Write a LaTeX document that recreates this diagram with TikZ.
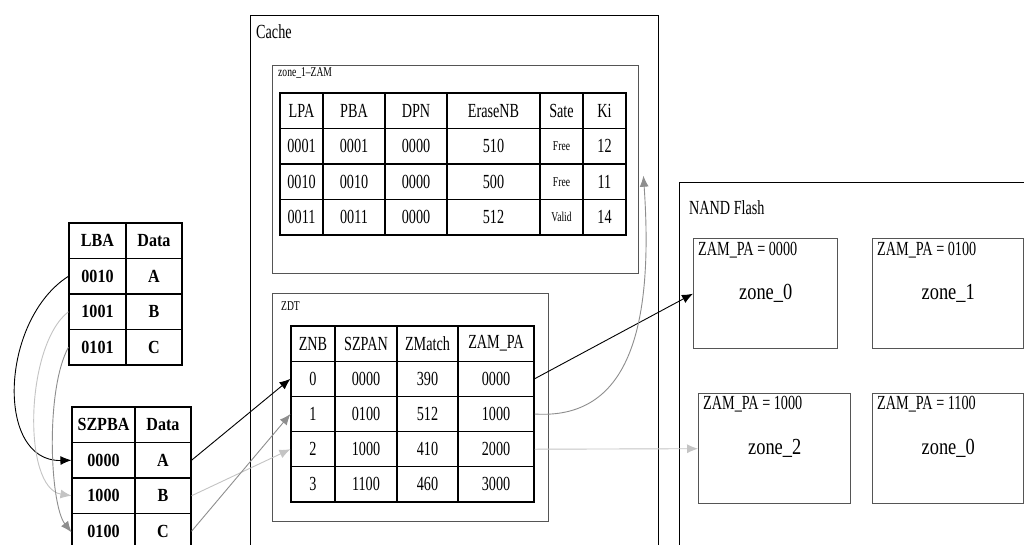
\documentclass[tikz,border=0pt]{standalone}
\usepackage{fontspec}
\setmainfont{Liberation Serif}[FakeStretch=0.71]
\newfontfamily\zonefamily{Liberation Serif}[FakeStretch=0.8]
\newfontfamily\hostfamily{Liberation Serif}[FakeStretch=0.87]
\usetikzlibrary{arrows.meta}

\definecolor{lightarrow}{HTML}{C4C4C4}
\definecolor{midarrow}{HTML}{8E8E8E}
\definecolor{framegray}{HTML}{555555}

\newcommand\tabfont{\fontsize{20}{22}\selectfont}
\newcommand\smallfont{\fontsize{13.5}{15}\selectfont}
\newcommand\zonefont{\zonefamily\fontsize{23}{25}\selectfont}
\newcommand\hostfont{\hostfamily\bfseries\fontsize{18.5}{20}\selectfont}

\tikzset{
  cell/.style={draw=black, line width=1.1pt, inner sep=0pt, anchor=center, font=\tabfont},
  hostcell/.style={draw=black, line width=1.1pt, inner sep=0pt, anchor=center, font=\hostfont},
  outerbox/.style={draw=black, line width=0.9pt, inner sep=0pt, anchor=north west},
  innerbox/.style={draw=framegray, line width=1.4pt, inner sep=0pt, anchor=north west},
  zonebox/.style={draw=framegray, line width=1.4pt, inner sep=0pt, anchor=north west, font=\zonefont},
  boxtitle/.style={anchor=west, inner sep=0pt, font=\tabfont},
  smalltitle/.style={anchor=west, inner sep=0pt, font=\smallfont},
  tip/.style={-{Latex[length=11pt,width=9pt]}},
  blackarrow/.style={tip, draw=black, line width=0.9pt},
  lightarr/.style={tip, draw=lightarrow, line width=0.9pt},
  midarr/.style={tip, draw=midarrow, line width=0.9pt}
}

% one row of the zone_1-ZAM table
\newcommand\zamrow[8]{%
  \node[cell, minimum width=43, minimum height=35.5] (zam-#1-1) at (301.5,#2) {#3};
  \node[cell, minimum width=62, minimum height=35.5] (zam-#1-2) at (354,#2) {#4};
  \node[cell, minimum width=62, minimum height=35.5] (zam-#1-3) at (416,#2) {#5};
  \node[cell, minimum width=93, minimum height=35.5] (zam-#1-4) at (493.5,#2) {#6};
  \node[cell, minimum width=43, minimum height=35.5] (zam-#1-5) at (561.5,#2) {#7};
  \node[cell, minimum width=43, minimum height=35.5] (zam-#1-6) at (604.5,#2) {#8};
}
% one row of the ZDT table
\newcommand\zdtrow[6]{%
  \node[cell, minimum width=44, minimum height=35.2] (zdt-#1-1) at (313,#2) {#3};
  \node[cell, minimum width=62, minimum height=35.2] (zdt-#1-2) at (366,#2) {#4};
  \node[cell, minimum width=61, minimum height=35.2] (zdt-#1-3) at (427.5,#2) {#5};
  \node[cell, minimum width=76, minimum height=35.2] (zdt-#1-4) at (496,#2) {#6};
}
% one row of the LBA table
\newcommand\lbarow[4]{%
  \node[hostcell, minimum width=57, minimum height=35.5] (lba-#1-1) at (97.5,#2) {#3};
  \node[hostcell, minimum width=56, minimum height=35.5] (lba-#1-2) at (154,#2) {#4};
}
% one row of the SZPBA table
\newcommand\szprow[4]{%
  \node[hostcell, minimum width=63, minimum height=35.5] (szp-#1-1) at (103.5,#2) {#3};
  \node[hostcell, minimum width=56, minimum height=35.5] (szp-#1-2) at (163,#2) {#4};
}

\begin{document}
\begin{tikzpicture}[x=1pt, y=-1pt]
\useasboundingbox (0,0) rectangle (1024,544);
\clip (0,0) rectangle (1024,544);
\fill[white] (0,0) rectangle (1024,544);

% Cache region
\node[outerbox, minimum width=408, minimum height=545] (cache) at (250,15) {};
\node[boxtitle] (cachetitle) at (256,32) {Cache};

\node[innerbox, minimum width=366, minimum height=208] (zambox) at (272,65) {};
\node[smalltitle] (zamtitle) at (278,73) {zone\_1--ZAM};

\zamrow{1}{110.75}{LPA}{PBA}{DPN}{EraseNB}{Sate}{Ki}
\zamrow{2}{146.25}{0001}{0001}{0000}{510}{\smallfont Free}{12}
\zamrow{3}{181.75}{0010}{0010}{0000}{500}{\smallfont Free}{11}
\zamrow{4}{217.25}{0011}{0011}{0000}{512}{\smallfont Valid}{14}

\node[innerbox, minimum width=276, minimum height=228] (zdtbox) at (272,293) {};
\node[smalltitle] (zdttitle) at (281,306) {ZDT};

\zdtrow{1}{343.6}{ZNB}{SZPAN}{ZMatch}{ZAM\_PA}
\zdtrow{2}{378.8}{0}{0000}{390}{0000}
\zdtrow{3}{414.0}{1}{0100}{512}{1000}
\zdtrow{4}{449.2}{2}{1000}{410}{2000}
\zdtrow{5}{484.4}{3}{1100}{460}{3000}

% NAND Flash region
\node[outerbox, minimum width=360, minimum height=380] (nand) at (679,182) {};
\node[boxtitle] (nandtitle) at (689,208) {NAND Flash};

\node[zonebox, minimum width=144, minimum height=110] (z0) at (693,238) {zone\_0};
\node[zonebox, minimum width=151, minimum height=110] (z1) at (872,238) {zone\_1};
\node[zonebox, minimum width=152, minimum height=110] (z2) at (698,393) {zone\_2};
\node[zonebox, minimum width=151, minimum height=110] (z3) at (872,393) {zone\_0};
\node[boxtitle] (z0addr) at ([xshift=5pt,yshift=-12pt]z0.north west) {ZAM\_PA = 0000};
\node[boxtitle] (z1addr) at ([xshift=5pt,yshift=-12pt]z1.north west) {ZAM\_PA = 0100};
\node[boxtitle] (z2addr) at ([xshift=5pt,yshift=-11pt]z2.north west) {ZAM\_PA = 1000};
\node[boxtitle] (z3addr) at ([xshift=5pt,yshift=-11pt]z3.north west) {ZAM\_PA = 1100};

% host side tables
\lbarow{1}{240.75}{LBA}{Data}
\lbarow{2}{276.25}{0010}{A}
\lbarow{3}{311.75}{1001}{B}
\lbarow{4}{347.25}{0101}{C}

\szprow{1}{424.75}{SZPBA}{Data}
\szprow{2}{460.25}{0000}{A}
\szprow{3}{495.75}{1000}{B}
\szprow{4}{531.25}{0100}{C}

% LBA -> SZPBA
\draw[blackarrow] (lba-2-1.west) .. controls (0,320) and (-5,462) .. (szp-2-1.west);
\draw[lightarr] (lba-3-1.west) .. controls (25,345) and (22,488) .. (szp-3-1.west);
\draw[midarr] (lba-4-1.west) .. controls (45,390) and (50,505) .. ([yshift=-1pt]szp-4-1.west);

% SZPBA -> ZDT
\draw[blackarrow] (szp-2-2.east) -- (zdt-2-1.west);
\draw[lightarr] (szp-3-2.east) -- (zdt-4-1.west);
\draw[midarr] (szp-4-2.east) -- (zdt-3-1.west);

% ZDT -> NAND zones and zone table
\draw[blackarrow] (zdt-2-4.east) -- (z0.west);
\draw[lightarr] (zdt-4-4.east) -- (z2.west);
\draw[midarr] (zdt-3-4.east) .. controls (628,420) and (654,330) .. ([xshift=4pt,yshift=-6pt]zambox.east);
\end{tikzpicture}
\end{document}
